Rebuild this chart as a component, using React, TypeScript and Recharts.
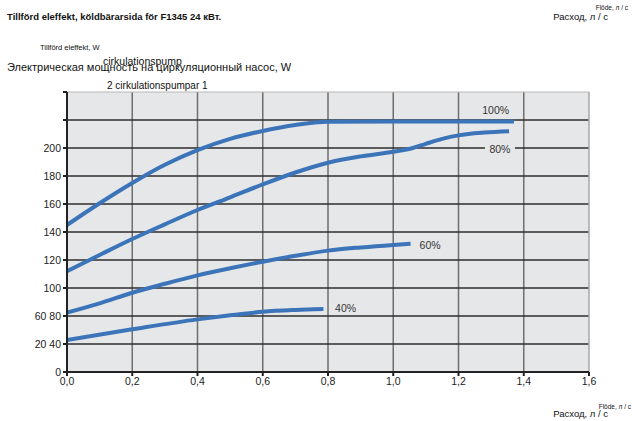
import React from "react";
import {
  LineChart, Line, XAxis, YAxis, CartesianGrid, ReferenceLine, ReferenceDot,
} from "recharts";

// flow, l/s
const flow100 = [0, 0.1, 0.2, 0.3, 0.4, 0.5, 0.6, 0.7, 0.8, 1.0, 1.2, 1.37];
const power100 = [145, 160.5, 175, 188, 198.5, 206.5, 212.2, 216.5, 218.8, 219, 219, 219];

const flow80 = [0, 0.1, 0.2, 0.3, 0.4, 0.5, 0.6, 0.7, 0.8, 0.9, 1.0, 1.06, 1.1, 1.15, 1.2, 1.28, 1.355];
const power80 = [112, 123.6, 135, 145.5, 155.7, 164.8, 174, 182.5, 189.5, 194, 197.3, 200, 203, 206.5, 209, 211, 212];

const flow60 = [0, 0.1, 0.2, 0.3, 0.4, 0.5, 0.6, 0.7, 0.8, 0.9, 1.0, 1.053];
const power60 = [82.4, 89, 96.6, 103, 109, 114.1, 118.8, 123, 126.7, 129, 130.8, 131.6];

const flow40 = [0, 0.2, 0.4, 0.5, 0.6, 0.7, 0.786];
const power40 = [62.9, 70.5, 77.6, 80.5, 83, 84.3, 85];

const xTicks = [0, 0.2, 0.4, 0.6, 0.8, 1.0, 1.2, 1.4, 1.6];
const yTicks = [40, 60, 80, 100, 120, 140, 160, 180, 200, 220, 240];
const yTickLabels = ["0", "20 40", "60 80", "100", "120", "140", "160", "180", "200", "", ""];

const curveNames = ["100%", "80%", "60%", "40%"];
const curveLabelX = [1.314, 1.327, 1.113, 0.854];
const curveLabelY = [227, 199, 131, 86];

const zip = (xs: number[], ys: number[]) => xs.map((x, i) => ({ x, y: ys[i] }));
const series = [zip(flow100, power100), zip(flow80, power80), zip(flow60, power60), zip(flow40, power40)];

const BLUE = "#3b74b8";
const BG = "#e6e7e9";
const FONT = "'Liberation Sans', Arial, sans-serif";

const CurveLabel = (props: any) => {
  const { viewBox, value } = props;
  const cx = viewBox.x + (viewBox.width || 0) / 2;
  const cy = viewBox.y + (viewBox.height || 0) / 2;
  return (
    <g>
      <rect x={cx - 15} y={cy - 6} width={30} height={12} fill={BG} />
      <text x={cx} y={cy} textAnchor="middle" dominantBaseline="central"
        fontSize={10.5} fontFamily={FONT} fill="#333">{value}</text>
    </g>
  );
};

const txt = (extra: React.CSSProperties): React.CSSProperties => ({
  position: "absolute", fontFamily: FONT, color: "#111", whiteSpace: "nowrap", lineHeight: 1, ...extra,
});

export default function App() {
  return (
    <div style={{ position: "absolute", left: 0, top: 0, width: 632, height: 421, background: "#fff" }}>
      <LineChart width={632} height={421} margin={{ top: 92, right: 43, bottom: 19, left: 7 }}>
        <CartesianGrid fill={BG} horizontal={false} vertical={false} />
        {xTicks.slice(1, -1).map((t) => (
          <ReferenceLine key={"vx" + t} x={t} stroke="#6e6e6e" strokeWidth={1.5} />
        ))}
        {yTicks.slice(1, -1).map((t) => (
          <ReferenceLine key={"hy" + t} y={t} stroke="#2e2e2e" strokeWidth={1.3} />
        ))}
        <ReferenceLine y={240} stroke="#b8b8b8" strokeWidth={1} />
        <ReferenceLine x={1.6} stroke="#a8a8a8" strokeWidth={1.5} />
        <XAxis type="number" dataKey="x" domain={[0, 1.6]} ticks={xTicks} allowDataOverflow
          tickFormatter={(v: number) => v.toFixed(1).replace(".", ",")}
          stroke="#222" strokeWidth={2} tickSize={4} height={30}
          tick={{ fontSize: 10.5, fill: "#222", fontFamily: FONT }} />
        <YAxis type="number" domain={[40, 240]} ticks={yTicks} allowDataOverflow
          tickFormatter={(v: number) => yTickLabels[yTicks.indexOf(v)]}
          stroke="#222" strokeWidth={2} tickSize={4} width={60}
          tick={{ fontSize: 10.5, fill: "#222", fontFamily: FONT }} />
        {series.map((d, i) => (
          <Line key={curveNames[i]} data={d} dataKey="y" type="monotone" stroke={BLUE}
            strokeWidth={4} dot={false} isAnimationActive={false} />
        ))}
        {curveNames.map((n, i) => (
          <ReferenceDot key={"l" + n} x={curveLabelX[i]} y={curveLabelY[i]} r={0}
            stroke="none" fill="none" label={<CurveLabel value={n} />} />
        ))}
      </LineChart>
      <div style={txt({ left: 7, top: 12, fontSize: 9.5, fontWeight: "bold" })}>
        Tillförd eleffekt, köldbärarsida för F1345 24 кВт.
      </div>
      <div style={txt({ left: 40, top: 44, fontSize: 7.5 })}>Tillförd eleffekt, W</div>
      <div style={txt({ left: 103, top: 56, fontSize: 10.5 })}>cirkulationspump</div>
      <div style={txt({ left: 7, top: 62, fontSize: 11 })}>
        Электрическая мощность на циркуляционный насос, W
      </div>
      <div style={txt({ left: 107, top: 81, fontSize: 10 })}>2 cirkulationspumpar 1</div>
      <div style={txt({ right: 4, top: 5, fontSize: 6.5 })}>Flöde, л / с</div>
      <div style={txt({ right: 24, top: 12, fontSize: 9.5 })}>Расход, л / с</div>
      <div style={txt({ right: 1, top: 404, fontSize: 6.5 })}>Flöde, л / с</div>
      <div style={txt({ right: 24, top: 409, fontSize: 9.5 })}>Расход, л / с</div>
    </div>
  );
}
